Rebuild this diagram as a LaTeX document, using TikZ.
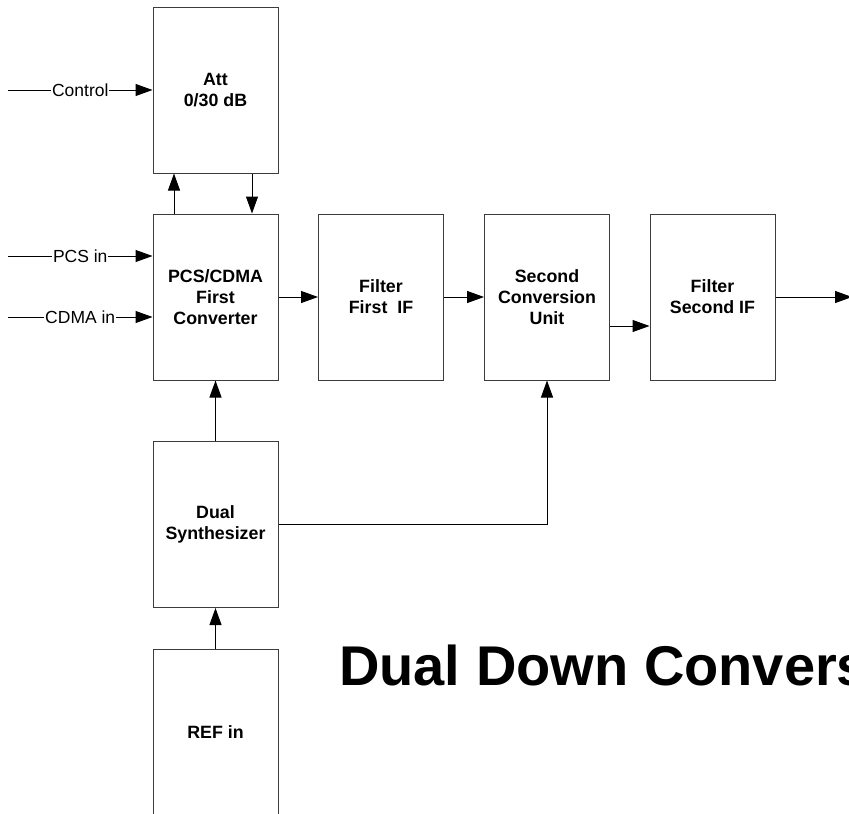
\documentclass[tikz,border=0pt]{standalone}
\usepackage{fontspec}
\setmainfont{Liberation Sans}
\usetikzlibrary{arrows.meta,positioning,calc}
\definecolor{edge}{RGB}{60,60,60}
\tikzset{
  box/.style={draw=edge,line width=1pt,minimum width=125pt,minimum height=166pt,align=center,inner sep=2pt,font=\fontsize{17.8}{21}\selectfont\bfseries},
  a/.style={-{Triangle[length=17pt,width=12pt]},line width=1pt},
  lbl/.style={font=\fontsize{17.5}{20}\selectfont,fill=white,inner sep=1pt}
}
\begin{document}
\begin{tikzpicture}[x=1pt,y=-1pt,
 ttl/.style={font=\fontsize{56}{60}\selectfont\bfseries,anchor=base west,inner sep=0pt}]
\useasboundingbox (0,0) rectangle (849,814);
\clip (0,0) rectangle (849,814);
\node[box] (att) at (215.5,90) {Att\\0/30 dB};
\node[box] (conv) at (215.5,297) {PCS/CDMA\\First\\Converter};
\node[box] (filt1) at (381,297) {Filter\\First~~IF};
\node[box] (sconv) at (547,297) {Second\\Conversion\\Unit};
\node[box] (filt2) at (712.5,297) {Filter\\Second IF};
\node[box] (synth) at (215.5,524.5) {Dual\\Synthesizer};
\node[box] (ref) at (215.5,732) {REF in};
\node[ttl] (title) at (339,685) {Dual Down Conversion};
\coordinate (ctl) at (8,90);
\coordinate (pcs) at (8,256);
\coordinate (cdma) at (8,317);
\coordinate (out) at (852,297);
\draw[a] (ctl) -- node[lbl]{Control} (att.west);
\draw[a] (pcs) -- node[lbl]{PCS in} (pcs -| conv.west);
\draw[a] (cdma) -- node[lbl]{CDMA in} (cdma -| conv.west);
\draw[a] ([xshift=-41.5pt]conv.north) -- ([xshift=-41.5pt]att.south);
\draw[a] ([xshift=36.5pt]att.south) -- ([xshift=36.5pt]conv.north);
\draw[a] (conv) -- (filt1); \draw[a] (filt1) -- (sconv);
\draw[a] ([yshift=-29pt]sconv.east) -- ([yshift=-29pt]filt2.west);
\draw[a] (filt2.east) -- (out);
\draw[a] (synth) -- (conv); \draw[a] (ref) -- (synth);
\draw[a] (synth.east) -| (sconv.south);
\end{tikzpicture}
\end{document}
